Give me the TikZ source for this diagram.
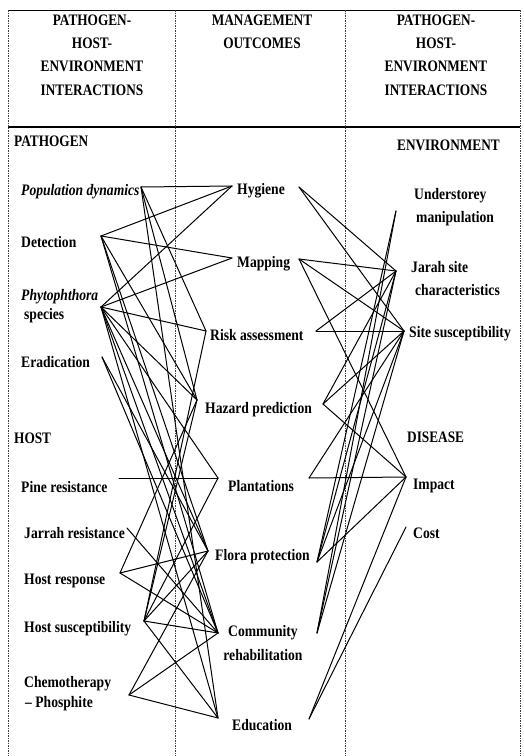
\documentclass[tikz,border=0pt]{standalone}
\usepackage{fontspec}
\setmainfont{Liberation Serif}
\newfontfamily\bodyfont{Liberation Serif}[FakeStretch=0.85]
\newfontfamily\capfont{Liberation Serif}[FakeStretch=0.83]
\begin{document}
\begin{tikzpicture}[x=1pt,y=-1pt,
  txt/.style={font=\bodyfont\bfseries\fontsize{16}{23}\selectfont, inner sep=0pt, anchor=west, align=left},
  ctxt/.style={font=\bodyfont\bfseries\fontsize{16}{24}\selectfont, inner sep=0pt, anchor=center, align=center},
  captxt/.style={font=\capfont\bfseries\fontsize{16}{23.3}\selectfont, inner sep=0pt, align=center},
  conn/.style={line width=1.0pt, black, line cap=round},
  divider/.style={line width=0.55pt, black!75, dash pattern=on 1.5pt off 1pt},
  frameline/.style={line width=0.8pt, black},
]
\useasboundingbox (0,0) rectangle (523,756);
\fill[white] (0,0) rectangle (523,756);

% frame
\coordinate (tl) at (8,10);   \coordinate (tr) at (520,10);
\coordinate (bl) at (8,756);  \coordinate (br) at (520,756);
\coordinate (hl) at (8,127);  \coordinate (hr) at (520,127);
\coordinate (d1t) at (175,10); \coordinate (d1b) at (175,756);
\coordinate (d2t) at (345,10); \coordinate (d2b) at (345,756);
\draw[frameline] (tl) -- (tr);
\draw[line width=1.3pt] (hl) -- (hr);
\draw[divider] (tl) -- (bl);
\draw[divider] (tr) -- (br);
\draw[divider] (d1t) -- (d1b);
\draw[divider] (d2t) -- (d2b);

% header
\node[captxt] (h1) at (92,55) {PATHOGEN-\\HOST-\\ENVIRONMENT\\INTERACTIONS};
\node[captxt] (h2) at (262,32) {MANAGEMENT\\OUTCOMES};
\node[captxt] (h3) at (436,55) {PATHOGEN-\\HOST-\\ENVIRONMENT\\INTERACTIONS};

% section labels
\node[captxt, anchor=west] (sPath) at (14,141) {PATHOGEN};
\node[captxt, anchor=west] (sHost) at (14,438) {HOST};
\node[captxt, anchor=west] (sEnv) at (397,145) {ENVIRONMENT};
\node[captxt, anchor=west] (sDis) at (407,437) {DISEASE};

% left column texts
\node[txt] (tPD) at (21,192) {\itshape Population dynamics};
\node[txt] (tDet) at (21,242) {Detection};
\node[txt, font=\bodyfont\bfseries\fontsize{16}{19}\selectfont] (tPhy) at (21,306) {{\itshape Phytophthora}\\\hspace*{3pt}species};
\node[txt] (tEra) at (21,362) {Eradication};
\node[txt] (tPine) at (21,487) {Pine resistance};
\node[txt] (tJR) at (24,533) {Jarrah resistance};
\node[txt] (tHR) at (24,581) {Host response};
\node[txt] (tHS) at (24,629) {Host susceptibility};
\node[txt, font=\bodyfont\bfseries\fontsize{16}{20}\selectfont] (tChem) at (24,694) {Chemotherapy\\\hspace*{1pt}– Phosphite};

% middle column texts
\node[txt] (tHyg) at (237,191) {Hygiene};
\node[txt] (tMap) at (237,264) {Mapping};
\node[txt] (tRisk) at (210,335) {Risk assessment};
\node[txt] (tHaz) at (205,410) {Hazard prediction};
\node[txt] (tPlant) at (228,486) {Plantations};
\node[txt] (tFlora) at (215,557) {Flora protection};
\node[ctxt] (tComm) at (263,643) {Community\\rehabilitation};
\node[txt] (tEdu) at (232,725) {Education};

% right column texts
\node[txt] (tUnd) at (414,207) {Understorey\\\hspace*{2pt}manipulation};
\node[txt] (tJS) at (411,279) {Jarah site\\\hspace*{4pt}characteristics};
\node[txt] (tSS) at (409,334) {Site susceptibility};
\node[txt] (tImp) at (413,486) {Impact};
\node[txt] (tCost) at (413,533) {Cost};

% connector end points
\coordinate (pd) at (141,187);
\coordinate (det) at (101,236);
\coordinate (phy) at (101,307);
\coordinate (era) at (102,357);
\coordinate (pine) at (119,478);
\coordinate (jr) at (127,528);
\coordinate (hrs) at (120,573);
\coordinate (hs) at (144,621);
\coordinate (chem) at (129,695);

\coordinate (hygL) at (232,186);
\coordinate (mapL) at (232,258);
\coordinate (riskL) at (206,331);
\coordinate (hazL) at (197,400);
\coordinate (plantL) at (218,478);
\coordinate (floraL) at (208,551);
\coordinate (commL) at (218,633);
\coordinate (eduL) at (218,718);

\coordinate (hygR) at (299,187);
\coordinate (mapR) at (299,259);
\coordinate (riskR) at (316,331);
\coordinate (hazR) at (323,404);
\coordinate (plantR) at (309,478);
\coordinate (floraR) at (317,562);
\coordinate (commR) at (317,633);
\coordinate (eduR) at (309,719);

\coordinate (und) at (396,211);
\coordinate (js) at (396,271);
\coordinate (ss) at (404,331);
\coordinate (imp) at (406,477);
\coordinate (cost) at (406,527);

% left connectors
\foreach \a/\b in {pd/hygL, pd/riskL, pd/hazL, pd/eduL,
  det/hygL, det/mapL, det/hazL, det/floraL, det/commL,
  phy/hygL, phy/mapL, phy/riskL, phy/hazL, phy/plantL, phy/floraL, phy/commL, phy/eduL,
  era/floraL, era/commL, pine/plantL, jr/commL,
  hrs/hazL, hrs/floraL, hrs/commL,
  hs/riskL, hs/hazL, hs/plantL, hs/floraL, hs/commL, hs/eduL,
  chem/floraL, chem/commL, chem/eduL}
  \draw[conn] (\a) -- (\b);

% right connectors
\foreach \a/\b in {hygR/js, hygR/ss, mapR/js, mapR/ss, mapR/imp,
  riskR/ss, riskR/js, hazR/js, hazR/ss, hazR/imp,
  plantR/imp, plantR/ss, floraR/imp, floraR/und, floraR/js, floraR/ss,
  commR/und, commR/js, commR/ss, eduR/imp, eduR/cost}
  \draw[conn] (\a) -- (\b);
\end{tikzpicture}
\end{document}
